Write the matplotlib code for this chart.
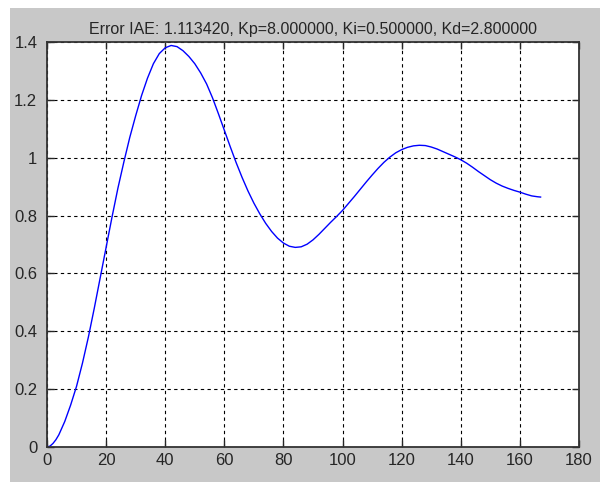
import matplotlib
matplotlib.use("Agg")
import matplotlib.pyplot as plt
from matplotlib.patches import Rectangle
import numpy as np

# step response
t = [0, 1, 2, 3, 4, 6, 8, 10, 12, 14, 16, 18, 20, 22, 24, 26, 28, 30, 32, 34, 36, 38,
     40, 42, 44, 46, 48, 50, 52, 54, 56, 58, 60, 62, 64, 66, 68, 70, 72, 74, 76, 78,
     80, 82, 84, 86, 88, 90, 92, 94, 96, 98, 100, 102, 104, 106, 108, 110, 112, 114,
     116, 118, 120, 122, 124, 126, 128, 130, 132, 134, 136, 138, 140, 142, 144, 146,
     148, 150, 152, 154, 156, 158, 160, 162, 164, 166, 167]
y = [0.00, 0.003, 0.012, 0.025, 0.042, 0.088, 0.145, 0.21, 0.29, 0.38, 0.48, 0.585,
     0.69, 0.795, 0.895, 0.985, 1.07, 1.145, 1.215, 1.275, 1.325, 1.36, 1.38, 1.388,
     1.384, 1.37, 1.35, 1.325, 1.293, 1.255, 1.207, 1.152, 1.095, 1.038, 0.983,
     0.932, 0.885, 0.843, 0.806, 0.773, 0.745, 0.722, 0.705, 0.694, 0.69, 0.692,
     0.701, 0.716, 0.735, 0.756, 0.777, 0.797, 0.818, 0.842, 0.866, 0.891, 0.916,
     0.94, 0.963, 0.984, 1.002, 1.017, 1.028, 1.036, 1.041, 1.043, 1.042, 1.037,
     1.030, 1.021, 1.012, 1.003, 0.993, 0.981, 0.967, 0.952, 0.938, 0.924, 0.912,
     0.902, 0.894, 0.887, 0.881, 0.874, 0.868, 0.865, 0.864]

title = "Error IAE: 1.113420, Kp=8.000000, Ki=0.500000, Kd=2.800000"
xticks = np.arange(0, 181, 20)
yticks = [0, 0.2, 0.4, 0.6, 0.8, 1.0, 1.2, 1.4]
ylabels = ["0", "0.2", "0.4", "0.6", "0.8", "1", "1.2", "1.4"]

plt.rcParams['font.family'] = ['Liberation Sans', 'DejaVu Sans']

fig = plt.figure(figsize=(6, 4.82), dpi=100, facecolor="white")
# grey window area, leaving a thin white margin on top and left
fig.patches.append(Rectangle((10 / 600, 0), 1, (482 - 8) / 482,
                             transform=fig.transFigure, facecolor="#c8c8c8",
                             edgecolor="none", zorder=-10))

ax = fig.add_axes([47 / 600, 35 / 482, 532 / 600, 405 / 482], zorder=1)
ax.set_facecolor("white")
ax.plot(t, y, color="#0000ff", lw=1.0)

ax.set_xlim(0, 180)
ax.set_ylim(0, 1.4)
ax.set_xticks(xticks)
ax.set_yticks(yticks)
ax.set_yticklabels(ylabels)
ax.tick_params(direction="in", length=5, width=1, colors="#262626",
               labelsize=12, top=True, right=True)
ax.tick_params(axis="x", pad=4)
ax.tick_params(axis="y", pad=7)
ax.grid(True, color="black", linestyle=(0, (3, 3)), linewidth=0.8)
for s in ax.spines.values():
    s.set_color("#333333")
    s.set_linewidth(1.3)

ax.set_title(title, fontsize=11.5, color="#262626", pad=6)

fig.savefig("out.png", dpi=100, facecolor=fig.get_facecolor())
